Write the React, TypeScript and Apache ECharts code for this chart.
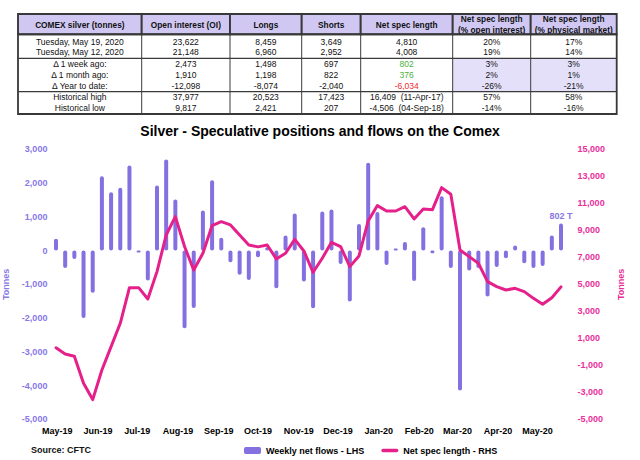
import React, { useEffect, useRef } from "react";
import * as echarts from "echarts";

// ---------- data ----------
const weekDates = [
  "2019-04-30", "2019-05-07", "2019-05-14", "2019-05-21", "2019-05-28",
  "2019-06-04", "2019-06-11", "2019-06-18", "2019-06-25",
  "2019-07-02", "2019-07-09", "2019-07-16", "2019-07-23", "2019-07-30",
  "2019-08-06", "2019-08-13", "2019-08-20", "2019-08-27",
  "2019-09-03", "2019-09-10", "2019-09-17", "2019-09-24",
  "2019-10-01", "2019-10-08", "2019-10-15", "2019-10-22", "2019-10-29",
  "2019-11-05", "2019-11-12", "2019-11-19", "2019-11-26",
  "2019-12-03", "2019-12-10", "2019-12-17", "2019-12-24", "2019-12-31",
  "2020-01-07", "2020-01-14", "2020-01-21", "2020-01-28",
  "2020-02-04", "2020-02-11", "2020-02-18", "2020-02-25",
  "2020-03-03", "2020-03-10", "2020-03-17", "2020-03-24", "2020-03-31",
  "2020-04-07", "2020-04-14", "2020-04-21", "2020-04-28",
  "2020-05-05", "2020-05-12", "2020-05-19",
];

const weeklyNetFlows = [
  350, -520, -250, -2000, -1250, 2200, 1730, 1860, 2520, -60,
  -890, 1930, 2700, 1510, -2300, -1700, 1190, 2080, 380, -350,
  -720, -870, -200, 100, -1120, 445, 1100, -920, -1710, 1160,
  1215, -400, -1510, 790, 2600, 1140, -425, 60, 250, -900,
  690, -80, 1610, -520, -4150, -590, -520, -1360, -490, -230,
  150, -375, -520, -460, 445, 802,
];

const netSpecLength = [
  300, -160, -330, -2330, -3540, -1350, 380, 2110, 4750, 4750,
  3910, 5940, 8650, 10010, 7800, 6060, 7300, 9350, 9640, 9400,
  8650, 7910, 7770, 7910, 6880, 7300, 8330, 7470, 5890, 6930,
  8110, 7790, 6310, 7100, 9690, 10830, 10430, 10430, 10750, 9840,
  10580, 10530, 12160, 11670, 7540, 7050, 6560, 5200, 4830, 4580,
  4700, 4460, 3960, 3520, 4008, 4810,
];

const monthTicks = [
  "2019-05-01", "2019-06-01", "2019-07-01", "2019-08-01", "2019-09-01",
  "2019-10-01", "2019-11-01", "2019-12-01", "2020-01-01", "2020-02-01",
  "2020-03-01", "2020-04-01", "2020-05-01",
];
const monthNames = ["Jan", "Feb", "Mar", "Apr", "May", "Jun", "Jul", "Aug", "Sep", "Oct", "Nov", "Dec"];

const tableHeader = [
  "COMEX silver (tonnes)",
  "Open interest (OI)",
  "Longs",
  "Shorts",
  "Net spec length",
  "Net spec length\n(% open interest)",
  "Net spec length\n(% physical market)",
];
const rowMay19 = ["Tuesday, May 19, 2020", "23,622", "8,459", "3,649", "4,810", "20%", "17%"];
const rowMay12 = ["Tuesday, May 12, 2020", "21,148", "6,960", "2,952", "4,008", "19%", "14%"];
const rowWeek = ["Δ 1 week ago:", "2,473", "1,498", "697", "802", "3%", "3%"];
const rowMonth = ["Δ 1 month ago:", "1,910", "1,198", "822", "376", "2%", "1%"];
const rowYtd = ["Δ Year to date:", "-12,098", "-8,074", "-2,040", "-6,034", "-26%", "-21%"];
const rowHigh = ["Historical high", "37,977", "20,523", "17,423", "16,409  (11-Apr-17)", "57%", "58%"];
const rowLow = ["Historical low", "9,817", "2,421", "207", "-4,506  (04-Sep-18)", "-14%", "-16%"];
const tableRows = [rowMay19, rowMay12, rowWeek, rowMonth, rowYtd, rowHigh, rowLow];

// ---------- styling ----------
const FONT = "'Liberation Sans', Arial, Helvetica, sans-serif";
const BAR_COLOR = "#8470E0";
const LINE_COLOR = "#E6208A";
const LEFT_LABEL = "#8878E4";
const RIGHT_LABEL = "#E8309A";
const DAY = 24 * 3600 * 1000;

const toTime = (s: string) => {
  const [y, m, d] = s.split("-").map(Number);
  return Date.UTC(y, m - 1, d);
};
const fmt = (n: number) => n.toLocaleString("en-US");

function buildTable(): any[] {
  const colX = [18, 141.7, 230, 301.7, 360.7, 452.7, 530.7, 616.7];
  const headTop = 14;
  const headBottom = 34.3;
  const bodyBottom = 114;
  const sep1 = 58.3;
  const sep2 = 91.7;
  const rowY = [41.5, 52.3, 63.5, 74.6, 85.8, 97.3, 108.3];
  const els: any[] = [];
  for (let c = 5; c < 7; c++) {
    els.push({
      type: "rect",
      shape: { x: colX[c], y: sep1, width: colX[c + 1] - colX[c], height: sep2 - sep1 },
      style: { fill: "#E5E0FA" },
    });
  }
  for (let c = 0; c < 7; c++) {
    els.push({
      type: "rect",
      shape: { x: colX[c], y: headTop, width: colX[c + 1] - colX[c], height: headBottom - headTop },
      style: { fill: "#D0C8F3", stroke: "#383838", lineWidth: 1.9 },
    });
    els.push({
      type: "text",
      x: (colX[c] + colX[c + 1]) / 2,
      y: (headTop + headBottom) / 2 + 0.5,
      style: {
        text: tableHeader[c],
        fill: "#111",
        align: "center",
        verticalAlign: "middle",
        fontFamily: FONT,
        fontWeight: "bold",
        fontSize: 8.3,
        lineHeight: 11,
      },
    });
  }
  els.push({
    type: "rect",
    shape: { x: colX[0], y: headBottom, width: colX[7] - colX[0], height: bodyBottom - headBottom },
    style: { fill: "none", stroke: "#383838", lineWidth: 1.8 },
  });
  for (let c = 1; c < 7; c++) {
    els.push({
      type: "line",
      shape: { x1: colX[c], y1: headBottom, x2: colX[c], y2: bodyBottom },
      style: { stroke: "#3a3a3a", lineWidth: 1 },
    });
  }
  for (const y of [sep1, sep2]) {
    els.push({
      type: "line",
      shape: { x1: colX[0], y1: y, x2: colX[7], y2: y },
      style: { stroke: "#3a3a3a", lineWidth: 1.2 },
    });
  }
  tableRows.forEach((row, r) => {
    row.forEach((txt, c) => {
      let color = "#111";
      if (c === 4 && (r === 2 || r === 3)) color = "#4CAF3C";
      if (c === 4 && r === 4) color = "#F0282D";
      els.push({
        type: "text",
        x: (colX[c] + colX[c + 1]) / 2,
        y: rowY[r],
        style: {
          text: txt,
          fill: color,
          align: "center",
          verticalAlign: "middle",
          fontFamily: FONT,
          fontSize: 8.5,
        },
      });
    });
  });
  return els;
}

export default function App() {
  const ref = useRef<HTMLDivElement>(null);
  useEffect(() => {
    if (!ref.current) return;
    const chart = echarts.init(ref.current, null, { renderer: "svg" });
    const times = weekDates.map(toTime);
    const barData = weeklyNetFlows.map((v, i) => {
      const item: any = { value: [times[i], v] };
      if (i === weeklyNetFlows.length - 1) {
        item.label = {
          show: true,
          position: "top",
          distance: 3,
          formatter: (p: any) => `${fmt(p.value[1])} T`,
          color: LEFT_LABEL,
          fontFamily: FONT,
          fontSize: 9,
          fontWeight: "bold",
        };
      }
      return item;
    });
    const lineData = netSpecLength.map((v, i) => [times[i], v]);

    const option: any = {
      animation: false,
      backgroundColor: "#ffffff",
      textStyle: { fontFamily: FONT },
      title: {
        text: "Silver - Speculative positions and flows on the Comex",
        left: "center",
        top: 119,
        textStyle: { fontSize: 14, fontWeight: "bold", color: "#000", fontFamily: FONT },
      },
      grid: { left: 51.4, right: 74.4, top: 149.3, bottom: 40.7, outerBoundsMode: "none" },
      legend: {
        top: 441,
        left: 239,
        itemWidth: 17,
        itemHeight: 7,
        itemGap: 17,
        symbolKeepAspect: true,
        textStyle: { fontSize: 9, fontWeight: "bold", color: "#000", fontFamily: FONT },
        data: [
          { name: "Weekly net flows - LHS", icon: "roundRect" },
          {
            name: "Net spec length - RHS",
            icon: "path://M1.7,0 L15.3,0 Q17,0 17,1.7 Q17,3.4 15.3,3.4 L1.7,3.4 Q0,3.4 0,1.7 Q0,0 1.7,0 Z",
            itemStyle: { color: LINE_COLOR },
          },
        ],
      },
      xAxis: {
        type: "value",
        min: times[0] - 3.5 * DAY,
        max: times[times.length - 1] + 3.5 * DAY,
        axisLine: { show: false },
        axisTick: { show: false },
        splitLine: { show: false },
        axisLabel: {
          customValues: monthTicks.map(toTime),
          formatter: (val: number) => {
            const d = new Date(val);
            return `${monthNames[d.getUTCMonth()]}-${String(d.getUTCFullYear()).slice(2)}`;
          },
          color: "#000",
          fontSize: 9,
          fontWeight: "bold",
          fontFamily: FONT,
          margin: 7,
          hideOverlap: false,
        },
      },
      yAxis: [
        {
          type: "value",
          min: -5000,
          max: 3000,
          interval: 1000,
          position: "left",
          name: "Tonnes",
          nameLocation: "middle",
          nameRotate: 90,
          nameGap: 30,
          nameTextStyle: { color: LEFT_LABEL, fontSize: 9, fontWeight: "bold", fontFamily: FONT },
          axisLine: { show: false },
          axisTick: { show: false },
          splitLine: { show: false },
          axisLabel: {
            formatter: (v: number) => fmt(v),
            color: LEFT_LABEL,
            fontSize: 9,
            fontWeight: "bold",
            fontFamily: FONT,
            margin: 4,
          },
        },
        {
          type: "value",
          min: -5000,
          max: 15000,
          interval: 2000,
          position: "right",
          name: "Tonnes",
          nameLocation: "middle",
          nameRotate: 90,
          nameGap: 44,
          nameTextStyle: { color: RIGHT_LABEL, fontSize: 9, fontWeight: "bold", fontFamily: FONT },
          axisLine: { show: false },
          axisTick: { show: false },
          splitLine: { show: false },
          axisLabel: {
            formatter: (v: number) => fmt(v),
            color: RIGHT_LABEL,
            fontSize: 9,
            fontWeight: "bold",
            fontFamily: FONT,
            margin: 12,
          },
        },
      ],
      series: [
        {
          name: "Weekly net flows - LHS",
          type: "bar",
          yAxisIndex: 0,
          barWidth: 4,
          data: barData,
          itemStyle: { color: BAR_COLOR, borderRadius: 2 },
        },
        {
          name: "Net spec length - RHS",
          type: "line",
          yAxisIndex: 1,
          data: lineData,
          symbol: "none",
          lineStyle: { color: LINE_COLOR, width: 3, join: "round", cap: "round" },
          itemStyle: { color: LINE_COLOR },
          z: 3,
        },
      ],
      graphic: [
        ...buildTable(),
        {
          type: "text",
          x: 31,
          y: 449.5,
          style: {
            text: "Source: CFTC",
            fill: "#111",
            fontFamily: FONT,
            fontSize: 9,
            fontWeight: "bold",
            verticalAlign: "middle",
          },
        },
      ],
    };
    chart.setOption(option);
    return () => chart.dispose();
  }, []);
  return (
    <div
      ref={ref}
      style={{ position: "absolute", left: 0, top: 0, width: 640, height: 460, background: "#fff" }}
    />
  );
}
